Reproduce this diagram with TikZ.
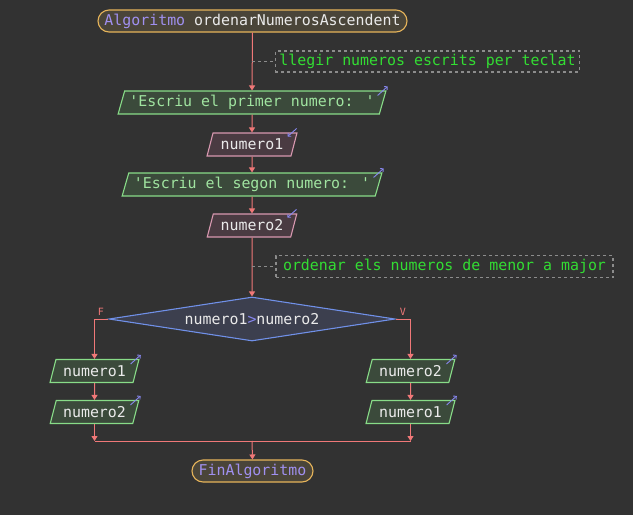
\documentclass[tikz,border=0pt]{standalone}
\usepackage{fontspec}
\newfontfamily\mono{DejaVu Sans Mono}
\usetikzlibrary{shapes.geometric,arrows.meta}
\definecolor{bg}{HTML}{323232}
\definecolor{flowc}{HTML}{F07878}
\definecolor{kw}{HTML}{A090F0}
\definecolor{txt}{HTML}{EAEAEA}
\definecolor{titlefill}{HTML}{4A4539}
\definecolor{titledraw}{HTML}{E6B45A}
\definecolor{outfill}{HTML}{3B4A3B}
\definecolor{outdraw}{HTML}{88DC88}
\definecolor{outtxt}{HTML}{A0E4A0}
\definecolor{infill}{HTML}{4A3B42}
\definecolor{indraw}{HTML}{D898B0}
\definecolor{dfill}{HTML}{3C3F4E}
\definecolor{ddraw}{HTML}{7090E8}
\definecolor{cmtxt}{HTML}{33DD33}
\definecolor{cmdraw}{HTML}{8C8C8C}
\definecolor{smallarr}{HTML}{8888F0}
\begin{document}
\begin{tikzpicture}[x=1pt,y=-1pt,
  every node/.style={font=\mono\fontsize{14.9}{17}\selectfont, inner sep=0pt},
  term/.style={draw=titledraw, fill=titlefill, line width=1.1pt, rounded corners=11pt, minimum height=22pt, text=txt},
  para/.style={trapezium, trapezium left angle=66.5, trapezium right angle=113.5, trapezium stretches=true, minimum height=23pt, line width=1.1pt},
  outbox/.style={para, draw=outdraw, fill=outfill, text=outtxt},
  outvar/.style={para, draw=outdraw, fill=outfill, text=txt},
  inbox/.style={para, draw=indraw, fill=infill, text=txt},
  cond/.style={diamond, shape aspect=6.5, draw=ddraw, fill=dfill, line width=1.1pt, minimum width=286pt, minimum height=44pt, text=txt},
  cmt/.style={draw=cmdraw, dash pattern=on 3pt off 3pt, line width=1.3pt, minimum height=21pt, text=cmtxt, inner xsep=4pt},
  cmtlink/.style={draw=cmdraw, dash pattern=on 3pt off 3pt, line width=1.3pt},
  flow/.style={draw=flowc, line width=1pt},
  arr/.style={flow, -{Triangle[width=6pt,length=5pt]}},
  sarr/.style={draw=smallarr, line width=0.9pt, -{To[length=3pt,width=5pt]}},
  lab/.style={font=\mono\fontsize{10}{12}\selectfont, text=flowc}
]
\fill[bg] (0,0) rectangle (633,515);
\useasboundingbox (0,0) rectangle (633,515);

\node[term, minimum width=309pt] (start) at (252.5,21) {\textcolor{kw}{Algoritmo} ordenarNumerosAscendent};
\node[cmt, minimum width=303pt] (c1) at (427.5,61.5) {llegir numeros escrits per teclat};
\coordinate (k1) at (252,61.5);
\node[outbox, minimum width=268pt] (o1) at (252,102.5) {'Escriu el primer numero: '};
\node[inbox, minimum width=90pt] (i1) at (252,144.5) {numero1};
\node[outbox, minimum width=260pt] (o2) at (252,184.5) {'Escriu el segon numero: '};
\node[inbox, minimum width=90pt] (i2) at (252,225.5) {numero2};
\node[cmt, minimum width=337pt, minimum height=22pt] (c2) at (444.5,266.5) {ordenar els numeros de menor a major\ };
\coordinate (k2) at (252,266.5);
\node[cond] (d) at (252,319) {numero1\textcolor{smallarr}{>}numero2};
\node[outvar, minimum width=89pt] (l1) at (94.5,371) {numero1};
\node[outvar, minimum width=89pt] (l2) at (94.5,412) {numero2};
\node[outvar, minimum width=89pt] (r1) at (410.5,371) {numero2};
\node[outvar, minimum width=89pt] (r2) at (410.5,412) {numero1};
\coordinate (j) at (252,441);
\node[term, minimum width=121pt, text=kw] (fin) at (252.5,471) {FinAlgoritmo};

\node[lab] (f) at (101,312) {F};
\node[lab] (v) at (403,312) {V};

% flow
\draw[arr] (start.south) -- (o1.north);
\draw[arr] (o1.south) -- (i1.north);
\draw[arr] (i1.south) -- (o2.north);
\draw[arr] (o2.south) -- (i2.north);
\draw[arr] (i2.south) -- (d.north);
\draw[cmtlink] (k1) -- (c1.west);
\draw[cmtlink] (k2) -- (c2.west);
\draw[arr] (d.west) -| (l1.north);
\draw[arr] (d.east) -| (r1.north);
\draw[arr] (l1.south) -- (l2.north);
\draw[arr] (r1.south) -- (r2.north);
\draw[arr] (l2.south) -- (l2.south |- j);
\draw[arr] (r2.south) -- (r2.south |- j);
\draw[flow] (l2.south |- j) -- (r2.south |- j);
\draw[arr] (j) -- (fin.north);

% small io arrows
\foreach \n in {o1,o2,l1,l2,r1,r2}{
  \draw[sarr] ([shift={(-9,5)}]\n.top right corner) -- ([shift={(1,-4)}]\n.top right corner);
}
\foreach \n in {i1,i2}{
  \draw[sarr] ([shift={(-1,-4)}]\n.top right corner) -- ([shift={(-10,4)}]\n.top right corner);
}
\end{tikzpicture}
\end{document}
